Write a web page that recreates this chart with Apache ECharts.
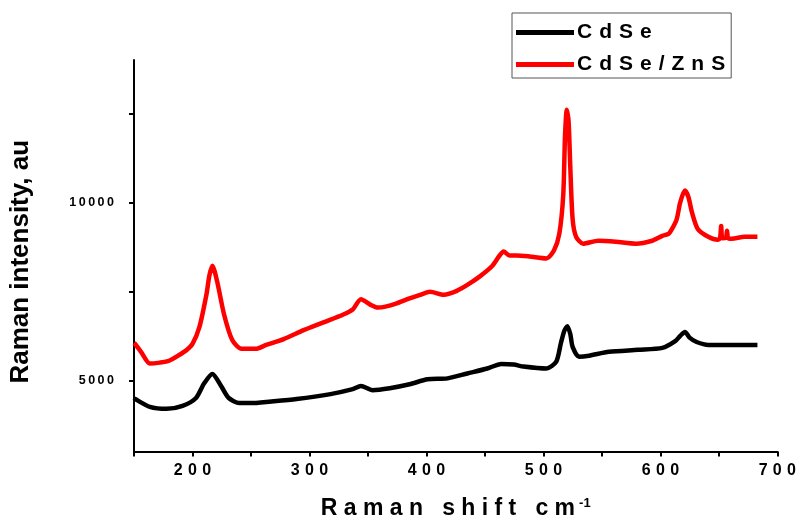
<!DOCTYPE html>
<html>
<head>
<meta charset="utf-8">
<script src="https://cdn.jsdelivr.net/npm/echarts@6/dist/echarts.min.js"></script>
<style>
html,body{margin:0;padding:0;background:#fff;}
#chart{width:799px;height:525px;}
</style>
</head>
<body>
<div id="chart"></div>
<script>
// ---- data ----
const seriesNames = ["CdSe", "CdSe/ZnS"];

const shiftCdSe = [150,151,163.6,178,191.5,203,210,217,224.6,231,240,254,263,289,318,337,344,354,368.6,385.6,401,418,435,452,464,474.6,483,502.5,511,515,518,520.5,523,525,530.5,539,556,581,601.7,612.7,617,621,625,631,641,657.6,683];
const intensityCdSe = [4500,4475,4254,4199,4282,4503,4917,5180,4834,4503,4365,4365,4392,4475,4613,4751,4840,4724,4779,4890,5028,5055,5193,5331,5460,5442,5387,5331,5525,6050,6400,6520,6300,5939,5663,5690,5801,5856,5911,6100,6250,6360,6200,6077,5994,5994,5994];

const shiftCdSeZnS = [150,151,156,163.6,172,180,189,195,200,205.9,211.9,214.5,217,221,227,234,242,254,263,278,295,312,329,337,344,352,358.5,365,374,385.6,395,403,415,426,435,446,456,462,466,471,477,488,502.5,509,513.6,517,518.5,520,521.5,523,525,528,534,547,562,579,593,601.7,607,610,614,617,621,624,627,632,641,649,651,652,653,656,657,658,661,672,683];
const intensityCdSeZnS = [6050,6020,5800,5470,5497,5550,5718,5850,6022,6492,7403,7950,8220,7790,6850,6132,5884,5884,5994,6160,6409,6630,6850,6990,7280,7127,7044,7070,7154,7300,7403,7486,7403,7514,7680,7928,8204,8480,8620,8508,8508,8480,8425,8646,9115,10220,11877,12600,12300,11000,9530,9032,8839,8922,8894,8839,8922,9060,9115,9253,9530,10000,10330,10150,9723,9253,9032,8950,8990,9336,8990,9000,9200,8990,8977,9032,9032];

const xMin = 150, xMax = 700, xStep = 50;
const xLabelValues = [200,300,400,500,600,700];
const yMin = 3000, yMax = 14000;
const yTickValues = [5000,7500,10000,12500];
const yLabelValues = [5000,10000];

// ---- chart ----
const FONT = 'Arial, "Liberation Sans", sans-serif';
const spaced = (s, sep) => String(s).split('').join(sep);
const pairs = (xs, ys) => xs.map((x, i) => [x, ys[i]]);

const chart = echarts.init(document.getElementById('chart'), null, {renderer: 'canvas'});
chart.setOption({
  animation: false,
  backgroundColor: '#fff',
  grid: {left: 134, right: 17, top: 60, bottom: 69, containLabel: false},
  legend: {
    orient: 'vertical',
    left: 512, top: 13,
    padding: [9, 6, 3, 4],
    itemGap: 11,
    itemWidth: 58, itemHeight: 5,
    icon: 'rect',
    borderColor: '#555', borderWidth: 1,
    data: seriesNames,
    formatter: n => spaced(n, '\u2004'),
    textStyle: {fontFamily: FONT, fontWeight: 'bold', fontSize: 21, color: '#000', padding: [0,0,0,-2]}
  },
  xAxis: {
    type: 'value', min: xMin, max: xMax, interval: xStep,
    name: '{a|' + ['Raman','shift','cm'].map(w => spaced(w, ' ')).join('   ') + '}{b|-1}',
    nameLocation: 'middle', nameGap: 44,
    nameTextStyle: {
      rich: {
        a: {fontFamily: FONT, fontWeight: 'bold', fontSize: 23, color: '#000', lineHeight: 26},
        b: {fontFamily: FONT, fontWeight: 'bold', fontSize: 13, color: '#000', padding: [0,0,10,4], lineHeight: 26}
      }
    },
    axisLine: {show: true, onZero: false, lineStyle: {color: '#000', width: 2}},
    axisTick: {show: true, inside: false, length: 5, lineStyle: {color: '#000', width: 2}},
    axisLabel: {
      margin: 11,
      fontFamily: FONT, fontWeight: 'bold', fontSize: 16, color: '#000',
      formatter: v => xLabelValues.includes(v) ? spaced(v, '\u2004') : ''
    },
    splitLine: {show: false}
  },
  yAxis: {
    type: 'value', min: yMin, max: yMax,
    name: 'Raman intensity, au',
    nameLocation: 'middle', nameGap: 100,
    nameTextStyle: {fontFamily: FONT, fontWeight: 'bold', fontSize: 26, color: '#000', padding: [0, 12, 0, 0]},
    axisLine: {show: true, onZero: false, lineStyle: {color: '#000', width: 2}},
    axisTick: {show: true, inside: false, length: 5, customValues: yTickValues, lineStyle: {color: '#000', width: 2}},
    axisLabel: {
      margin: 20, customValues: yLabelValues,
      fontFamily: FONT, fontWeight: 'bold', fontSize: 12.5, color: '#000',
      formatter: v => spaced(v, '\u2009')
    },
    splitLine: {show: false}
  },
  series: [
    {
      name: seriesNames[0], type: 'line', showSymbol: false, symbol: 'none', smooth: 0.25,
      color: '#000', lineStyle: {color: '#000', width: 4.5},
      data: pairs(shiftCdSe, intensityCdSe)
    },
    {
      name: seriesNames[1], type: 'line', showSymbol: false, symbol: 'none', smooth: 0.25,
      color: '#ff0000', lineStyle: {color: '#ff0000', width: 4.5},
      data: pairs(shiftCdSeZnS, intensityCdSeZnS)
    }
  ]
});
</script>
</body>
</html>
